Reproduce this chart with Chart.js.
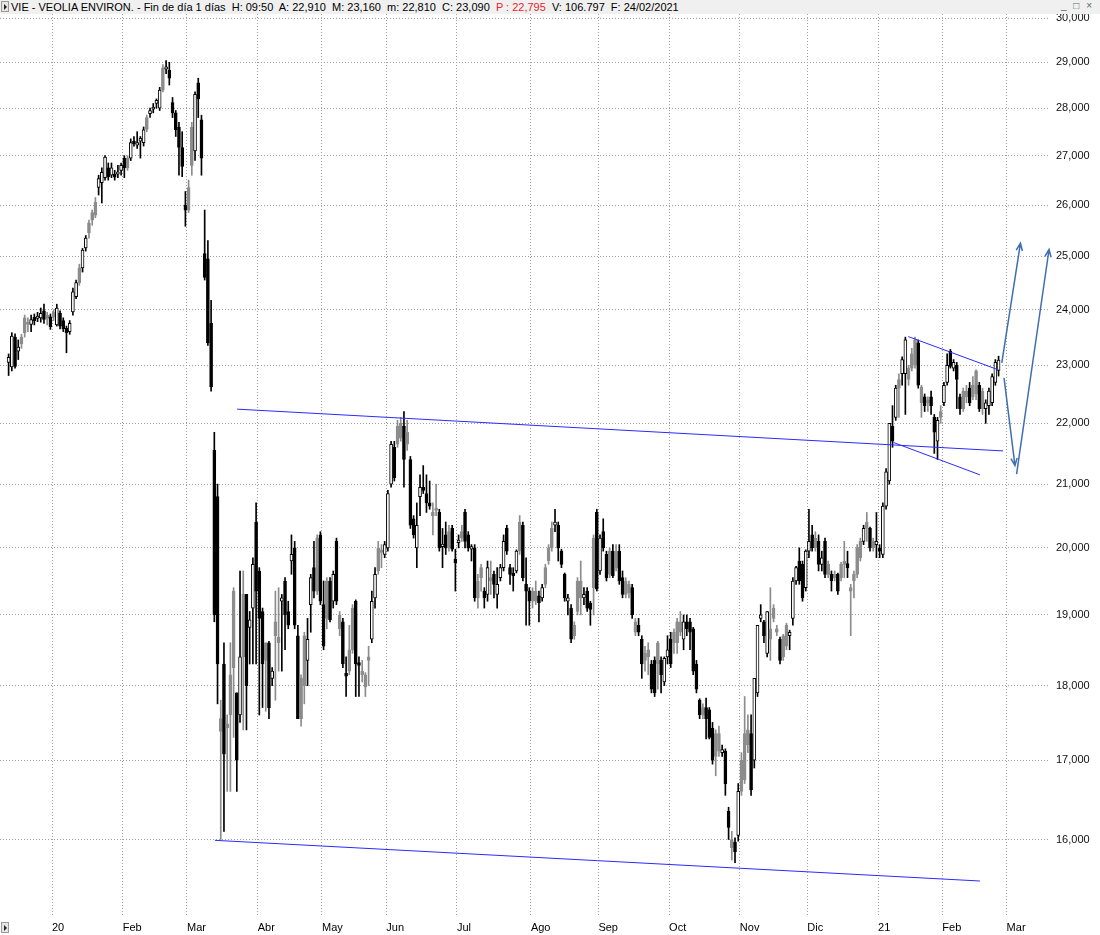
<!DOCTYPE html>
<html>
<head>
<meta charset="utf-8">
<script src="https://cdn.jsdelivr.net/npm/chart.js@4.4.0/dist/chart.umd.min.js"></script>
<style>
  html, body { margin: 0; padding: 0; background: #fff; }
  #wrap { position: relative; width: 1100px; height: 935px; overflow: hidden;
          font-family: 'Liberation Sans', Arial, sans-serif; }
  #chart { position: absolute; left: 0; top: 0; }
  #hdr { position: absolute; left: 0; top: 0; width: 1100px; height: 14px; background: #f0f0f0;
         font-size: 11px; line-height: 14px; color: #000; white-space: pre; }
  #hdr .t { position: absolute; left: 11px; top: 0; }
  #hdr .red { color: #e8262a; }
  .box { position: absolute; left: 1px; width: 6px; height: 9px; border: 1px solid #9a9a9a; background: #e6e6e6; }
  .box::after { content: ''; position: absolute; left: 2px; top: 2px; border-left: 3px solid #222;
                border-top: 3px solid transparent; border-bottom: 3px solid transparent; }
  #btns { position: absolute; right: 6px; top: -1px; font-size: 10px; color: #666; letter-spacing: 2px; }
</style>
</head>
<body>
<div id="wrap">
  <canvas id="chart" width="1100" height="935"></canvas>
  <div id="hdr"><span class="box" style="top:1px"></span><span class="t">VIE - VEOLIA ENVIRON. - Fin de día 1 días  H: 09:50  A: 22,910  M: 23,160  m: 22,810  C: 23,090  <span class="red">P : 22,795</span>  V: 106.797  F: 24/02/2021</span><span id="btns">_ □ ×</span></div>
  <span class="box" style="top:922px"></span>
</div>
<script>
// daily candles [open, high, low, close], one array per month
const dec19 = [
  [23.05,23.20,22.82,23.14],[22.97,23.58,22.90,23.52],[23.50,23.56,22.95,22.98],[23.25,23.45,23.10,23.32],
  [23.50,23.55,23.30,23.38],[23.85,23.90,23.50,23.58],[23.77,23.85,23.60,23.73],[23.73,23.90,23.60,23.82],
  [23.86,23.92,23.72,23.80],[23.84,23.95,23.78,23.88],[23.85,24.03,23.77,23.93],[23.98,24.10,23.75,23.82],
  [23.90,23.95,23.72,23.84],[23.87,23.92,23.64,23.69]
];
const jan20 = [
  [23.95,24.00,23.80,23.86],[23.72,24.10,23.70,24.03],[23.93,23.98,23.65,23.70],[23.80,23.85,23.60,23.65],
  [23.66,23.70,23.22,23.58],[23.60,23.80,23.55,23.75],[23.96,24.40,23.90,24.33],[24.24,24.55,24.20,24.50],
  [24.78,24.85,24.45,24.50],[24.78,25.15,24.70,25.12],[25.16,25.40,25.10,25.35],[25.65,25.70,25.35,25.45],
  [25.85,25.90,25.60,25.70],[26.06,26.15,25.75,25.80],[26.35,26.60,26.20,26.53],[26.45,26.75,26.04,26.66],
  [26.55,27.00,26.50,26.97],[26.75,26.85,26.50,26.57],[26.60,26.85,26.55,26.75],[26.62,26.70,26.50,26.56],
  [26.62,26.80,26.55,26.67],[26.70,26.85,26.60,26.80]
];
const feb20 = [
  [26.95,27.00,26.55,26.75],[26.95,27.00,26.70,26.75],[26.95,27.35,26.90,27.27],[27.30,27.40,27.20,27.25],
  [27.22,27.50,27.15,27.27],[27.30,27.40,26.95,27.36],[27.27,27.60,27.20,27.54],[27.80,27.85,27.50,27.55],
  [27.88,28.00,27.80,27.95],[27.98,28.10,27.90,28.02],[28.10,28.20,28.00,28.17],[28.00,28.45,27.95,28.39],
  [28.87,28.95,28.35,28.39],[28.85,29.04,28.75,28.90],[28.83,29.00,28.50,28.65],[28.12,28.23,27.80,27.90],
  [27.90,27.95,27.40,27.54],[27.60,27.70,26.60,27.17],[27.17,27.50,26.57,26.78],[26.00,26.27,25.58,25.90]
];
const mar20 = [
  [26.35,26.50,25.85,25.90],[27.60,27.70,26.60,26.80],[27.10,28.35,26.90,28.30],[28.55,28.65,27.80,28.20],
  [27.75,27.85,26.60,26.95],[25.05,25.90,24.55,24.60],[24.95,25.30,23.35,23.40],[23.75,24.17,22.55,22.62],
  [21.55,21.85,18.90,19.00],[20.80,21.00,17.75,18.30],[17.38,17.80,16.00,17.55],[18.30,18.60,16.10,17.08],
  [17.48,17.60,16.60,17.43],[18.15,18.60,16.60,17.60],[19.35,19.40,17.30,18.25],[17.90,17.90,16.60,17.00],
  [17.60,19.65,17.50,18.40],[19.30,19.65,17.40,18.40],[19.30,19.30,17.40,18.00],[18.82,19.05,18.30,18.93],
  [19.10,19.85,18.30,19.75],[20.40,20.70,18.30,19.35]
];
const apr20 = [
  [19.65,19.70,17.60,18.95],[19.05,19.10,17.70,18.30],[18.60,18.60,17.65,18.35],[18.60,18.62,17.55,17.70],
  [18.10,18.25,18.00,18.20],[18.90,19.35,17.80,18.70],[18.60,19.40,18.20,18.68],[19.20,19.30,18.20,19.25],
  [19.50,19.55,18.50,19.00],[19.05,19.20,18.80,18.85],[19.80,20.20,19.60,19.90],[20.00,20.10,18.80,18.85],
  [18.70,18.85,17.55,17.55],[18.10,18.15,17.45,17.55],[18.70,18.75,17.75,18.00],[18.35,18.95,18.00,18.65],
  [19.15,19.60,18.75,19.55],[19.70,20.10,19.25,19.35],[20.15,20.20,19.30,19.35],[20.20,20.25,19.15,19.20]
];
const may20 = [
  [19.15,19.50,18.50,18.55],[19.50,19.55,18.80,18.95],[19.50,19.55,18.90,18.93],[19.20,19.65,19.10,19.60],
  [20.10,20.15,19.15,19.20],[18.80,19.05,18.70,19.00],[18.90,18.95,18.25,18.30],[18.17,18.40,17.85,18.13],
  [18.50,18.85,18.15,18.20],[19.10,19.15,18.45,18.50],[19.20,19.22,17.85,18.30],[18.32,18.40,17.85,18.28],
  [18.15,18.35,18.05,18.20],[17.98,18.18,17.85,18.15],[18.40,18.55,18.00,18.35],[18.65,19.35,18.60,19.20],
  [19.25,19.70,19.10,19.60],[20.00,20.10,19.60,19.65],[19.97,20.05,19.70,19.93],[19.90,20.10,19.85,20.05]
];
const jun20 = [
  [20.00,20.90,19.95,20.85],[21.00,21.70,20.95,21.65],[21.60,21.70,21.05,21.10],[21.95,22.05,21.60,21.65],
  [22.00,22.10,21.70,21.75],[21.95,22.20,20.95,21.40],[21.85,22.05,21.55,21.65],[21.40,21.45,20.30,20.35],
  [20.45,20.50,20.15,20.20],[20.00,20.70,19.70,20.35],[20.80,21.15,20.50,20.95],[20.95,21.30,20.85,20.90],
  [20.85,21.15,20.55,20.70],[20.70,21.05,20.60,20.65],[20.50,20.70,20.20,20.55],[20.62,21.00,20.50,20.58],
  [20.55,20.60,19.95,20.00],[20.02,20.30,19.70,20.06],[20.20,20.40,19.90,20.00],[20.25,20.35,19.95,20.00],
  [20.30,20.35,19.95,19.98],[19.83,19.98,19.35,19.77]
];
const jul20 = [
  [20.08,20.20,20.00,20.12],[20.25,20.35,20.10,20.15],[20.55,20.60,20.00,20.10],[20.20,20.25,19.95,20.00],
  [19.98,20.05,19.80,20.02],[20.00,20.05,19.20,19.25],[19.50,19.60,19.10,19.25],[19.70,19.75,19.35,19.55],
  [19.35,19.40,19.10,19.25],[19.30,19.80,19.20,19.70],[19.50,19.80,19.30,19.55],[19.60,19.65,19.25,19.45],
  [19.30,19.70,19.10,19.45],[19.55,19.75,19.50,19.70],[19.70,20.20,19.65,20.10],[20.30,20.35,19.90,19.95],
  [19.70,19.75,19.45,19.60],[19.62,19.70,19.35,19.58],[19.65,19.97,19.62,19.95],[20.40,20.50,19.90,19.95],
  [20.35,20.40,19.50,19.55],[19.45,19.85,18.85,19.35],[19.35,19.40,18.85,19.20]
];
const aug20 = [
  [19.35,19.40,19.10,19.20],[19.35,19.50,19.15,19.20],[19.28,19.35,18.90,19.18],[19.25,19.45,19.20,19.40],
  [19.70,19.75,19.40,19.45],[20.00,20.05,19.75,19.80],[20.30,20.40,19.95,20.00],[20.35,20.60,20.25,20.40],
  [20.35,20.40,19.80,20.00],[19.95,19.98,19.70,19.75],[19.60,19.62,19.20,19.25],[19.20,19.30,19.00,19.25],
  [19.10,19.15,18.60,18.65],[18.85,18.90,18.65,18.70],[19.50,19.55,19.00,19.05],[19.50,19.80,19.00,19.25],
  [19.25,19.40,19.15,19.30],[19.35,19.40,19.05,19.10],[19.17,19.20,18.85,19.08],[20.15,20.20,19.00,19.40],
  [20.55,20.60,19.35,19.38]
];
const sep20 = [
  [19.65,20.20,19.60,20.15],[20.25,20.45,19.95,20.00],[19.90,19.95,19.50,19.55],[19.95,20.00,19.55,19.60],
  [19.95,20.05,19.55,19.58],[19.95,20.05,19.65,19.70],[19.95,20.05,19.45,19.50],[19.55,19.65,19.25,19.30],
  [19.50,19.55,19.25,19.30],[19.45,19.50,19.25,19.32],[19.40,19.45,18.95,19.00],[18.75,18.95,18.70,18.90],
  [18.85,18.95,18.70,18.75],[18.65,18.70,18.10,18.30],[18.45,18.55,18.20,18.35],[18.50,18.60,18.15,18.40],
  [18.30,18.35,17.90,17.95],[18.35,18.40,17.85,17.90],[18.60,18.62,17.95,18.30],[18.35,18.40,17.90,18.15],
  [18.05,18.40,18.00,18.38],[18.40,18.70,18.30,18.50]
];
const oct20 = [
  [18.65,18.75,18.25,18.30],[18.75,18.80,18.45,18.60],[18.90,18.95,18.45,18.60],[18.90,19.05,18.70,18.75],
  [18.65,19.00,18.50,18.90],[18.90,19.00,18.70,18.80],[18.90,18.95,18.50,18.75],[18.80,18.82,18.15,18.20],
  [18.30,18.35,17.90,17.95],[17.80,17.82,17.55,17.60],[17.70,17.75,17.55,17.60],[17.70,17.83,17.28,17.55],
  [17.67,17.70,17.28,17.30],[17.42,17.50,16.95,17.00],[17.35,17.40,16.80,17.05],[17.35,17.45,17.05,17.12],
  [17.10,17.20,17.05,17.14],[17.12,17.15,16.55,16.70],[16.35,16.40,16.00,16.15],[15.90,16.10,15.75,16.00],
  [15.97,16.02,15.72,15.85],[16.05,16.70,15.98,16.60]
];
const nov20 = [
  [17.00,17.10,16.55,16.60],[17.35,17.85,16.70,16.75],[17.40,17.60,17.10,17.20],[17.35,17.60,16.55,16.62],
  [17.00,18.10,16.90,18.10],[17.90,18.85,17.85,18.85],[18.95,19.15,18.90,19.00],[18.90,18.92,18.60,18.70],
  [18.45,19.05,18.40,19.05],[18.65,19.40,18.35,18.80],[19.10,19.15,18.90,18.95],[18.75,18.85,18.70,18.80],
  [18.65,18.68,18.30,18.35],[18.70,18.72,18.35,18.40],[18.85,18.88,18.50,18.55],[18.70,18.78,18.50,18.75],
  [18.95,19.55,18.85,19.50],[19.50,19.72,19.45,19.70],[19.80,20.00,19.45,19.50],[19.75,19.80,19.20,19.25],
  [19.40,19.97,19.35,19.95]
];
const dec20 = [
  [19.95,20.60,19.85,20.10],[20.20,20.35,19.95,20.00],[20.15,20.25,19.95,20.00],[20.10,20.20,19.65,19.75],
  [19.75,19.95,19.65,19.85],[20.10,20.15,19.55,19.60],[19.75,19.80,19.55,19.60],[19.60,19.65,19.35,19.50],
  [19.60,19.65,19.50,19.55],[19.60,19.62,19.30,19.35],[19.75,19.78,19.50,19.55],[19.80,20.10,19.55,19.75],
  [19.76,19.95,19.55,19.70],[19.35,19.45,18.70,19.40],[19.60,19.65,19.25,19.50],[20.00,20.05,19.55,19.60],
  [20.10,20.15,19.80,19.85],[20.10,20.35,20.05,20.30],[20.40,20.55,20.10,20.30],[20.30,20.32,19.95,20.00],
  [20.10,20.15,19.95,20.00],[20.05,20.55,19.85,20.10]
];
const jan21 = [
  [20.00,20.05,19.85,19.95],[19.90,20.70,19.85,20.65],[20.65,21.25,20.60,21.20],[21.05,22.00,21.00,22.00],
  [21.95,22.30,21.60,21.70],[22.10,22.65,22.05,22.60],[22.75,22.85,22.10,22.60],[22.85,23.15,22.65,23.10],
  [22.85,23.50,22.15,23.45],[22.75,23.00,22.65,22.95],[23.20,23.30,22.90,22.95],[23.45,23.50,22.95,23.00],
  [23.40,23.45,22.60,22.65],[22.35,22.65,22.10,22.62],[22.45,22.50,22.20,22.30],[22.40,22.45,22.20,22.35],
  [22.45,22.55,22.15,22.30],[22.10,22.15,21.50,21.85],[21.70,22.10,21.40,22.05],[22.20,22.30,22.00,22.10]
];
const feb21 = [
  [22.35,22.70,22.30,22.65],[22.70,23.20,22.65,23.00],[23.25,23.28,22.95,22.98],[22.95,23.10,22.90,23.05],
  [23.00,23.05,22.25,22.75],[22.45,22.50,22.15,22.25],[22.55,22.60,22.20,22.25],[22.55,22.65,22.35,22.45],
  [22.60,22.70,22.30,22.35],[22.65,22.80,22.40,22.45],[22.90,22.92,22.40,22.50],[22.65,22.70,22.20,22.25],
  [22.55,22.60,22.15,22.25],[22.25,22.40,22.00,22.35],[22.30,22.60,22.15,22.55],[22.35,22.85,22.30,22.80],
  [22.70,23.10,22.65,23.05],[22.91,23.16,22.81,23.09]
];

// first session of each month (candle index) and its label
const monthStarts = [14, 36, 56, 78, 98, 118, 140, 163, 184, 206, 228, 249, 271, 291, 311];
const monthLabels = ['20', 'Feb', 'Mar', 'Abr', 'May', 'Jun', 'Jul', 'Ago', 'Sep', 'Oct', 'Nov', 'Dic', '21', 'Feb', 'Mar'];
const priceTicks = [16, 17, 18, 19, 20, 21, 22, 23, 24, 25, 26, 27, 28, 29, 30];

// hand drawn studies: [index from, price from, index to, price to]
const trendLines = [
  [71.1, 22.24, 309.4, 21.54],
  [64.2, 15.99, 302.2, 15.50],
  [279.9, 23.51, 307.9, 22.92],
  [275.3, 21.68, 302.2, 21.15]
];
const arrows = [
  [309.0, 23.04, 314.8, 25.25],
  [309.7, 22.78, 313.1, 21.30],
  [313.6, 21.16, 323.7, 25.13]
];

const ohlc = [].concat(dec19, jan20, feb20, mar20, apr20, may20, jun20, jul20, aug20, sep20, oct20, nov20, dec20, jan21, feb21);

// hollow = up day, black = down day, grey when the day disagrees with the previous close
const tones = ohlc.map((k, i) => {
  const prev = i ? ohlc[i - 1][3] : k[0];
  const up = k[3] >= k[0];
  if (up !== (k[3] >= prev)) return 'mixed';
  return up ? 'up' : 'down';
});
const fill = { up: '#ffffff', down: '#000000', mixed: '#8c8c8c' };
const edge = { up: '#000000', down: '#000000', mixed: '#8c8c8c' };

const FONT = { family: "'Liberation Sans', Arial, sans-serif", size: 11 };

const drawings = {
  id: 'drawings',
  afterDatasetsDraw(chart) {
    const { ctx, scales: { x, y } } = chart;
    ctx.save();
    ctx.lineWidth = 1;
    ctx.strokeStyle = '#2a2aff';
    trendLines.forEach(([i1, p1, i2, p2]) => {
      ctx.beginPath();
      ctx.moveTo(x.getPixelForValue(i1), y.getPixelForValue(p1));
      ctx.lineTo(x.getPixelForValue(i2), y.getPixelForValue(p2));
      ctx.stroke();
    });
    ctx.strokeStyle = '#3f6fb0';
    ctx.lineWidth = 1.5;
    arrows.forEach(([i1, p1, i2, p2]) => {
      const ax = x.getPixelForValue(i1), ay = y.getPixelForValue(p1);
      const bx = x.getPixelForValue(i2), by = y.getPixelForValue(p2);
      const ang = Math.atan2(by - ay, bx - ax);
      ctx.beginPath();
      ctx.moveTo(ax, ay);
      ctx.lineTo(bx, by);
      ctx.moveTo(bx - 8 * Math.cos(ang - 0.4), by - 8 * Math.sin(ang - 0.4));
      ctx.lineTo(bx, by);
      ctx.lineTo(bx - 8 * Math.cos(ang + 0.4), by - 8 * Math.sin(ang + 0.4));
      ctx.stroke();
    });
    ctx.restore();
  }
};

new Chart(document.getElementById('chart'), {
  type: 'bar',
  data: {
    datasets: [
      {
        label: 'wick',
        data: ohlc.map((k, i) => ({ x: i, y: [k[2], k[1]] })),
        backgroundColor: tones.map(t => edge[t]),
        barThickness: 1,
        grouped: false,
        order: 2
      },
      {
        label: 'body',
        data: ohlc.map((k, i) => ({ x: i, y: [k[0], k[3]] })),
        backgroundColor: tones.map(t => fill[t]),
        borderColor: tones.map(t => edge[t]),
        borderWidth: 1,
        borderSkipped: false,
        barThickness: 3,
        minBarLength: 1,
        grouped: false,
        order: 1
      }
    ]
  },
  options: {
    responsive: false,
    devicePixelRatio: 1,
    animation: false,
    events: [],
    layout: { padding: { top: 14, left: 0, right: 0, bottom: 0 } },
    plugins: { legend: { display: false }, tooltip: { enabled: false }, title: { display: false } },
    scales: {
      x: {
        type: 'linear',
        min: -2.68,
        max: 324,
        offset: false,
        afterBuildTicks: s => { s.ticks = monthStarts.map(m => ({ value: m - 0.5 })); },
        afterFit: s => { s.height = 20; },
        ticks: {
          autoSkip: false, maxRotation: 0, align: 'start', padding: 6,
          color: '#000', font: FONT,
          callback: (v, i) => monthLabels[i]
        },
        grid: { color: '#a0a0a0', drawTicks: false, offset: false },
        border: { display: false, dash: [1, 2] }
      },
      y: {
        type: 'logarithmic',
        position: 'right',
        min: 15.102,
        max: 30.092,
        afterBuildTicks: s => { s.ticks = priceTicks.map(v => ({ value: v })); },
        afterFit: s => { s.width = 50; },
        ticks: {
          padding: 6, color: '#111', font: FONT,
          callback: v => Number(v).toFixed(3).replace('.', ',')
        },
        grid: { color: '#a0a0a0', drawTicks: false },
        border: { display: false, dash: [1, 2] }
      }
    }
  },
  plugins: [drawings]
});
</script>
</body>
</html>
